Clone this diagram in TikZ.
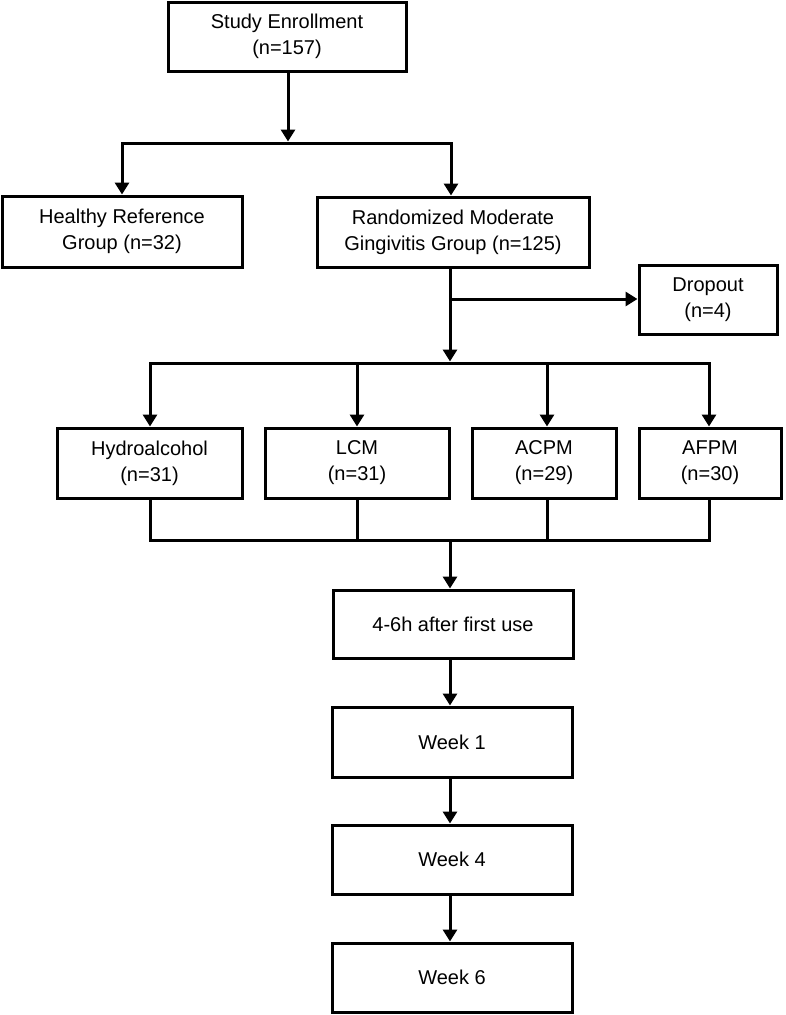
\documentclass[tikz,border=0pt]{standalone}
\usepackage{fontspec}
\setmainfont{Liberation Sans}
\usetikzlibrary{arrows.meta}
\begin{document}
\begin{tikzpicture}[x=1pt,y=-1pt,
  box/.style={draw=black, line width=3pt, rectangle, align=center, inner sep=0pt,
    font=\fontsize{20}{26}\selectfont, text=black},
  ln/.style={draw=black, line width=3pt, line cap=rect},
  arr/.style={ln, -{Triangle[length=12pt,width=14pt]}}]
\useasboundingbox[fill=white] (0,0) rectangle (786,1015);

% boxes
\node[box, minimum width=238pt, minimum height=69pt] (enroll) at (287,36.5) {Study Enrollment\\(n=157)};
\node[box, minimum width=240pt, minimum height=71pt] (healthy) at (122,231.5) {Healthy Reference\\Group (n=32)};
\node[box, minimum width=272pt, minimum height=70pt] (rand) at (453,232) {Randomized Moderate\\Gingivitis Group (n=125)};
\node[box, minimum width=138pt, minimum height=69pt] (drop) at (708,299.5) {Dropout\\(n=4)};
\node[box, minimum width=185pt, minimum height=70pt] (hydro) at (149.5,463) {Hydroalcohol\\(n=31)};
\node[box, minimum width=184pt, minimum height=70pt] (lcm) at (357,463) {LCM\\(n=31)};
\node[box, minimum width=144pt, minimum height=70pt] (acpm) at (544,463) {ACPM\\(n=29)};
\node[box, minimum width=142pt, minimum height=70pt] (afpm) at (710,463) {AFPM\\(n=30)};
\node[box, minimum width=240pt, minimum height=68pt] (first) at (453,624) {4-6h after first use};
\node[box, minimum width=240pt, minimum height=70pt] (wk1) at (452,742) {Week 1};
\node[box, minimum width=240pt, minimum height=69pt] (wk4) at (452,859.5) {Week 4};
\node[box, minimum width=240pt, minimum height=69pt] (wk6) at (452,977.5) {Week 6};

% junction coordinates
\coordinate (j1) at (288,143);
\coordinate (j1L) at (122,143);
\coordinate (j1R) at (451,143);
\coordinate (s1) at (450,267);
\coordinate (jd) at (450,299);
\coordinate (j2) at (450,363);
\coordinate (j2a) at (150,363);
\coordinate (j2b) at (357,363);
\coordinate (j2c) at (547,363);
\coordinate (j2d) at (709,363);
\coordinate (j3) at (450,540);
\coordinate (j3a) at (150,540);
\coordinate (j3b) at (357,540);
\coordinate (j3c) at (547,540);
\coordinate (j3d) at (709,540);
\coordinate (sp) at (450,0);

% enrollment split
\draw[arr] (enroll.south -| j1) -- ([yshift=1.5pt]j1);
\draw[ln] (j1L) -- (j1R);
\draw[arr] (j1L) -- (healthy.north);
\draw[arr] (j1R) -- (j1R |- rand.north);

% randomized -> dropout and arms
\draw[arr] (rand.south -| sp) -- ([yshift=1.5pt]j2);
\draw[arr] (jd) -- (drop.west |- jd);
\draw[ln] (j2a) -- (j2d);
\draw[arr] (j2a) -- (j2a |- hydro.north);
\draw[arr] (j2b) -- (j2b |- lcm.north);
\draw[arr] (j2c) -- (j2c |- acpm.north);
\draw[arr] (j2d) -- (j2d |- afpm.north);

% arms -> merge
\draw[ln] (j3a |- hydro.south) -- (j3a);
\draw[ln] (j3b |- lcm.south) -- (j3b);
\draw[ln] (j3c |- acpm.south) -- (j3c);
\draw[ln] (j3d |- afpm.south) -- (j3d);
\draw[ln] (j3a) -- (j3d);
\draw[arr] (j3) -- (j3 |- first.north);

% timeline
\draw[arr] (first.south -| sp) -- (sp |- wk1.north);
\draw[arr] (wk1.south -| sp) -- (sp |- wk4.north);
\draw[arr] (wk4.south -| sp) -- (sp |- wk6.north);
\end{tikzpicture}
\end{document}
